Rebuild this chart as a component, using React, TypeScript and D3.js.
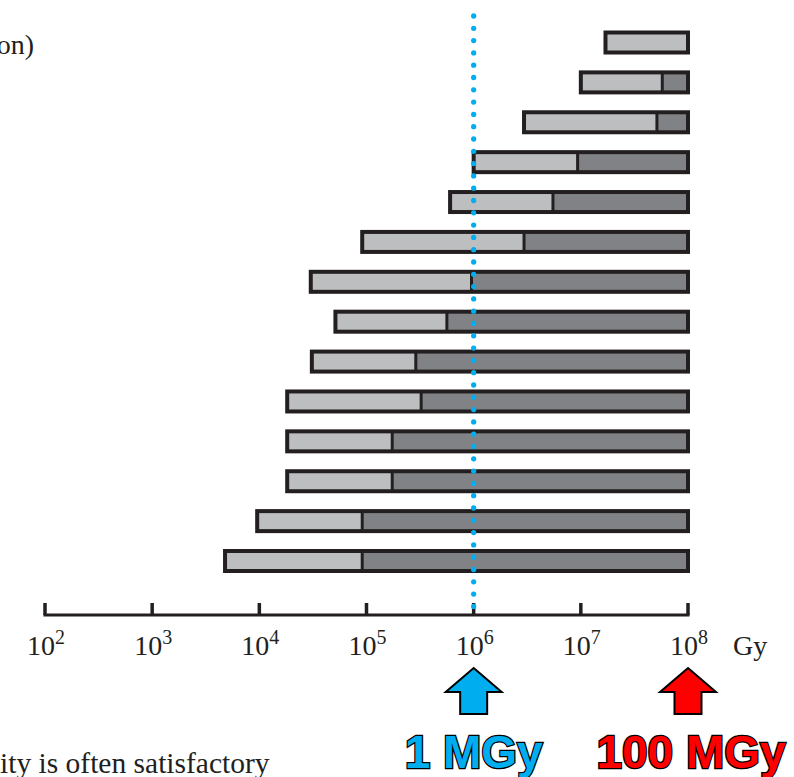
import React from "react";
import * as d3 from "d3";

const rows = ["r1", "r2", "r3", "r4", "r5", "r6", "r7", "r8", "r9", "r10", "r11", "r12", "r13", "r14"];
// log10 of dose (Gy)
const startLog = [7.23, 7.0, 6.47, 6.0, 5.78, 4.96, 4.48, 4.71, 4.49, 4.26, 4.26, 4.26, 3.98, 3.68];
const midLog = [8.0, 7.76, 7.71, 6.97, 6.74, 6.47, 5.98, 5.75, 5.46, 5.51, 5.24, 5.24, 4.96, 4.96];
const endLog = [8, 8, 8, 8, 8, 8, 8, 8, 8, 8, 8, 8, 8, 8];
const tickExps = [2, 3, 4, 5, 6, 7, 8];
const markers = [
  { value: 1e6, label: "1 MGy", color: "#00aeef" },
  { value: 1e8, label: "100 MGy", color: "#ff0000" },
];

const W = 794;
const H = 777;
const INK = "#231f20";
const LIGHT = "#bcbec0";
const DARK = "#808285";

export default function App() {
  const x = d3.scaleLog().domain([1e2, 1e8]).range([45, 688]);
  const y = d3.scalePoint<string>().domain(rows).range([42.5, 561]);
  const barH = 20;
  const axisY = 615;
  const serif = "'Liberation Serif', 'Times New Roman', serif";
  const sans = "'Liberation Sans', Arial, sans-serif";

  const arrow = (cx: number) => {
    const top = 668, headBase = 692, bottom = 714;
    const hw = 28, sw = 13.5;
    return `M${cx},${top} L${cx + hw},${headBase} L${cx + sw},${headBase} L${cx + sw},${bottom} L${cx - sw},${bottom} L${cx - sw},${headBase} L${cx - hw},${headBase} Z`;
  };

  return (
    <svg width={W} height={H} style={{ position: "absolute", left: 0, top: 0 }}>
      <rect width={W} height={H} fill="#fff" />
      {/* partial text */}
      <text x={34} y={54} fontFamily={serif} fontSize={28} fill={INK} textAnchor="end">on)</text>
      <text x={0} y={773} fontFamily={serif} fontSize={29.5} fill={INK}>ity is often satisfactory</text>

      {/* bars */}
      {rows.map((r, i) => {
        const cy = y(r)!;
        const xs = x(Math.pow(10, startLog[i]));
        const xm = x(Math.pow(10, midLog[i]));
        const xe = x(Math.pow(10, endLog[i]));
        return (
          <g key={r}>
            <rect x={xs} y={cy - barH / 2} width={xm - xs} height={barH} fill={LIGHT} />
            {xe - xm > 0.5 && <rect x={xm} y={cy - barH / 2} width={xe - xm} height={barH} fill={DARK} />}
            {xe - xm > 0.5 && (
              <line x1={xm} x2={xm} y1={cy - barH / 2} y2={cy + barH / 2} stroke={INK} strokeWidth={3} />
            )}
            <rect x={xs} y={cy - barH / 2} width={xe - xs} height={barH} fill="none" stroke={INK} strokeWidth={4} />
          </g>
        );
      })}

      {/* axis */}
      <line x1={x(1e2)} x2={x(1e8)} y1={axisY} y2={axisY} stroke={INK} strokeWidth={3} strokeLinecap="square" />
      {tickExps.map((e) => (
        <g key={e}>
          <line x1={x(Math.pow(10, e))} x2={x(Math.pow(10, e))} y1={axisY} y2={axisY - 12} stroke={INK} strokeWidth={3.5} />
          <text x={x(Math.pow(10, e)) + 1} y={655} fontFamily={serif} fontSize={28} fill={INK} textAnchor="middle">
            10
            <tspan fontSize={20} dy={-11}>{e}</tspan>
          </text>
        </g>
      ))}
      <text x={733} y={655} fontFamily={serif} fontSize={28} fill={INK}>Gy</text>

      {/* dotted 1 MGy line */}
      <line
        x1={x(1e6)}
        x2={x(1e6)}
        y1={16}
        y2={618}
        stroke="#00aeef"
        strokeWidth={5.3}
        strokeLinecap="round"
        strokeDasharray="0 12.3"
      />

      {/* markers */}
      {markers.map((m) => {
        const cx = x(m.value);
        return (
          <g key={m.label}>
            <path d={arrow(cx)} fill={m.color} stroke="#000" strokeWidth={2} strokeLinejoin="miter" />
            <text
              x={cx + (m.value === 1e8 ? 3 : 0)}
              y={768}
              fontFamily={sans}
              fontWeight="bold"
              fontSize={46}
              fill={m.color}
              stroke="#000"
              strokeWidth={2.5}
              paintOrder="stroke"
              textAnchor="middle"
            >
              {m.label}
            </text>
          </g>
        );
      })}
    </svg>
  );
}
